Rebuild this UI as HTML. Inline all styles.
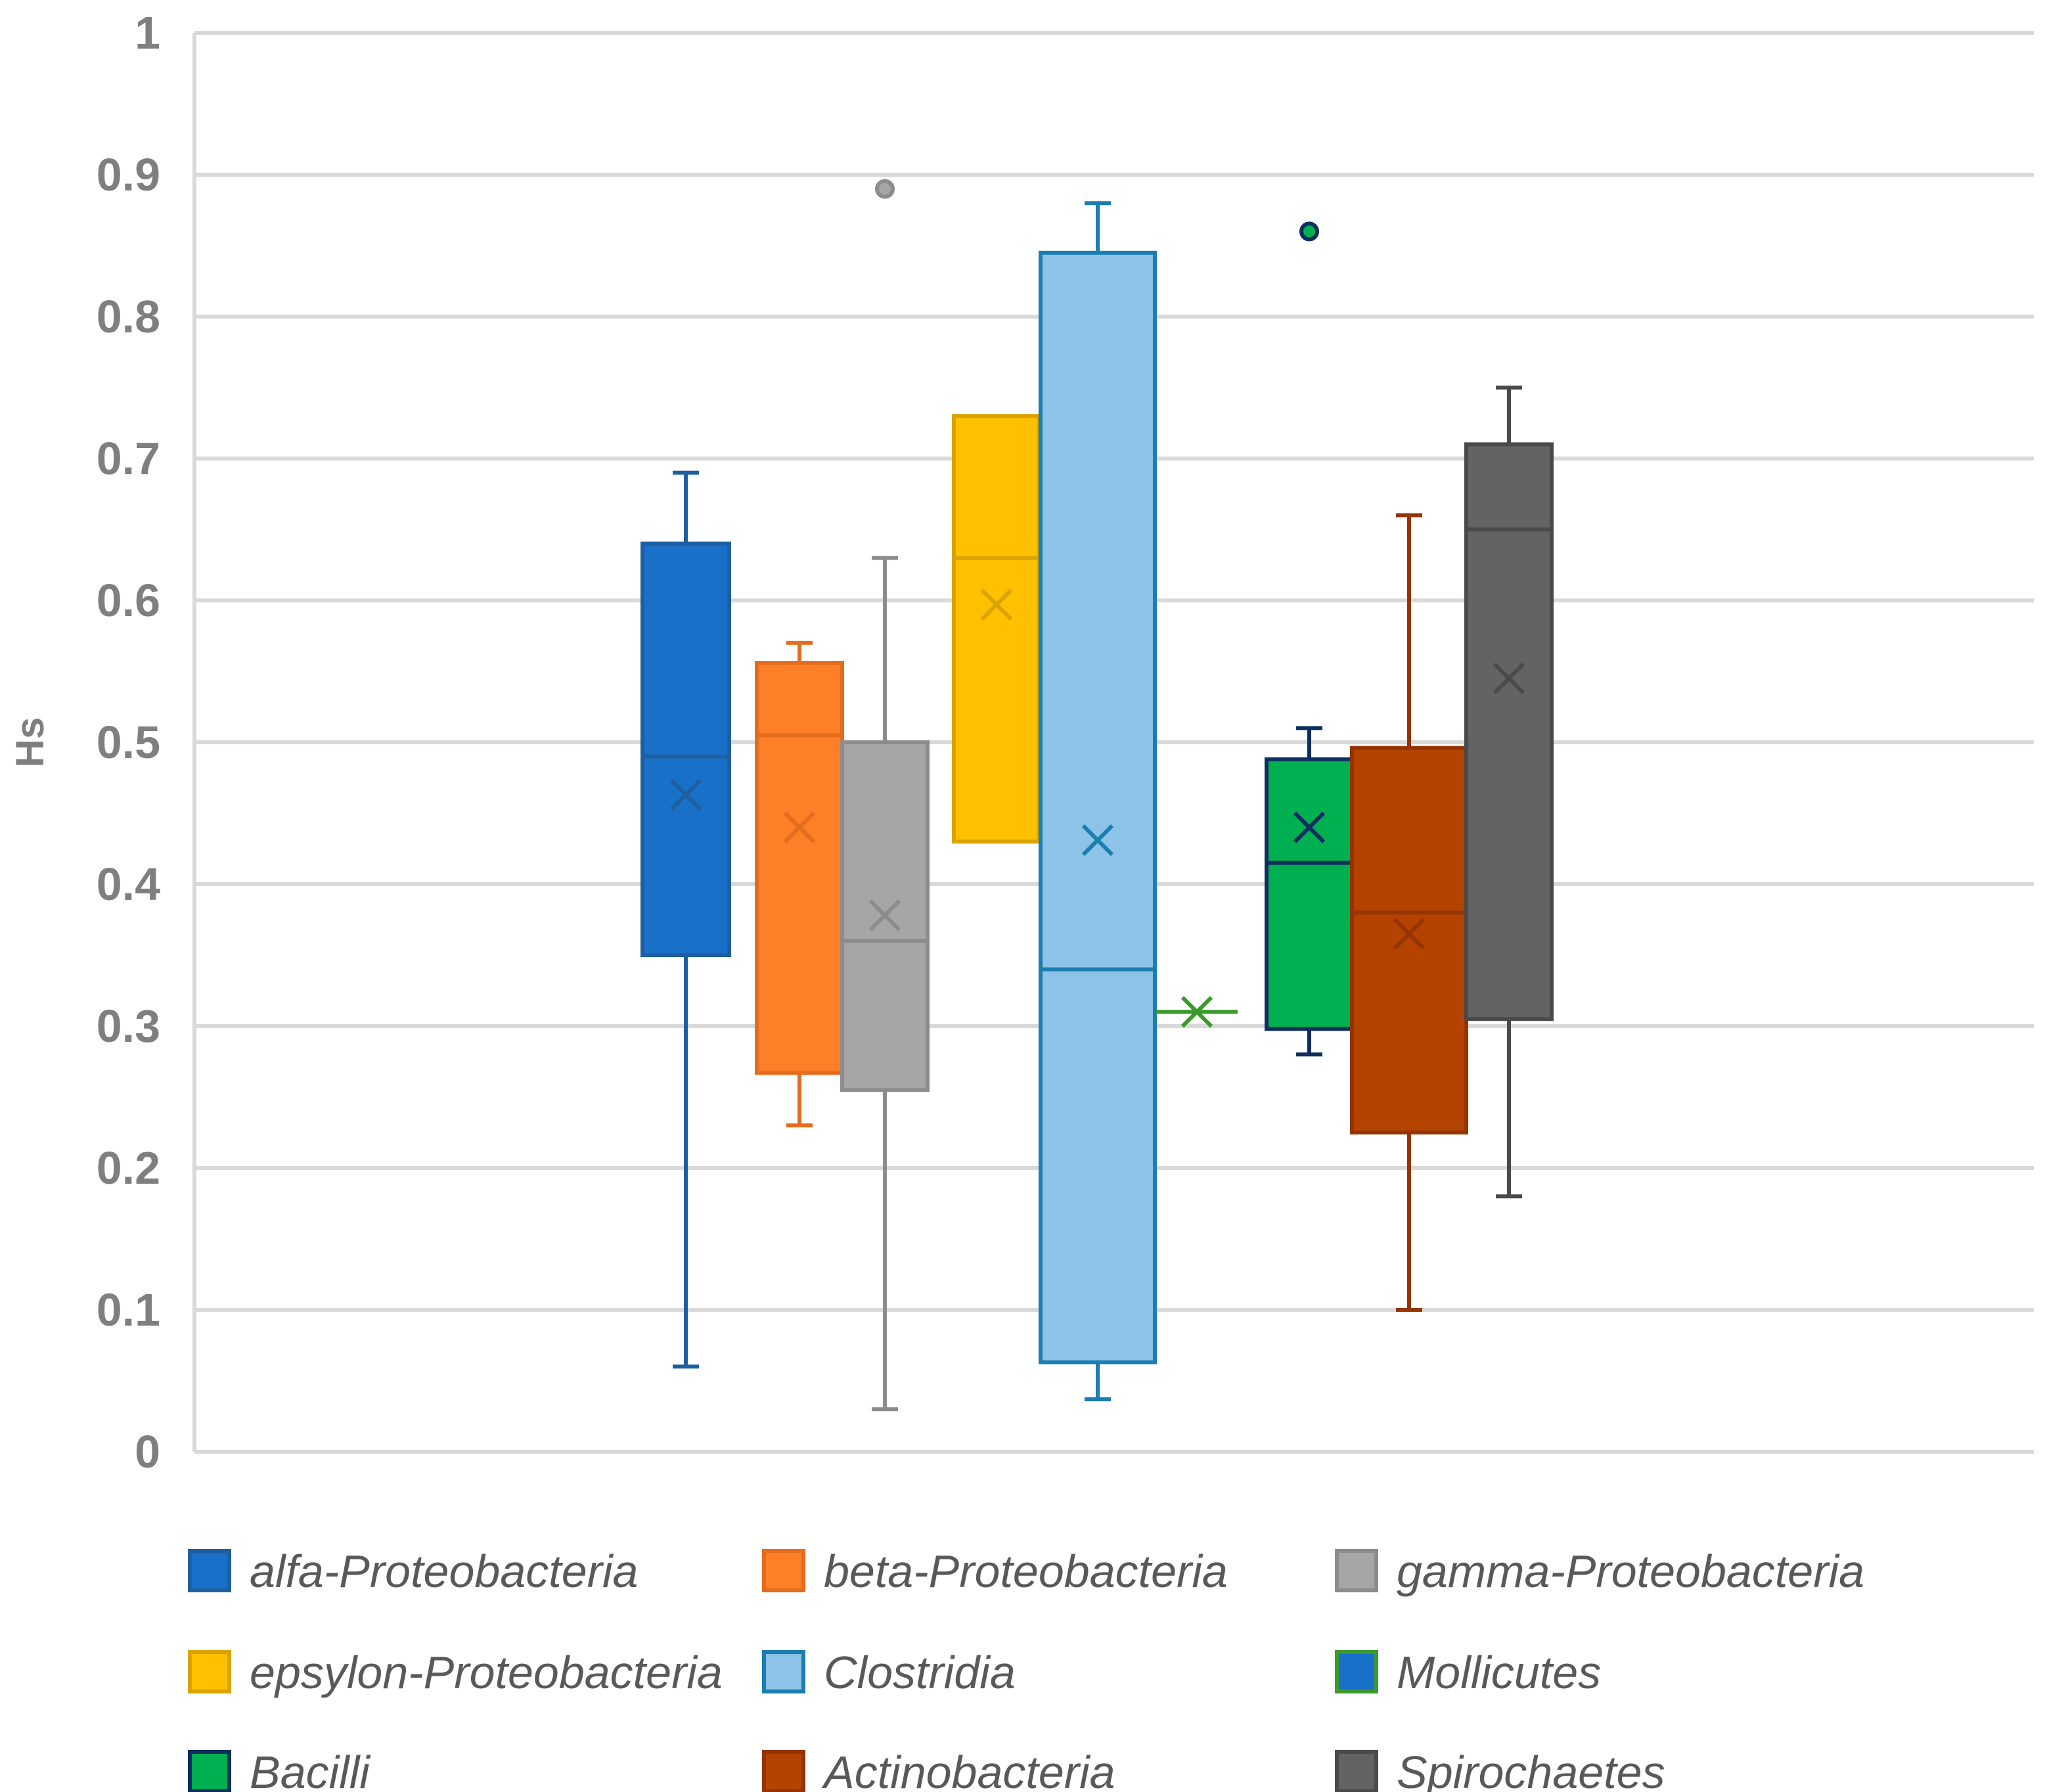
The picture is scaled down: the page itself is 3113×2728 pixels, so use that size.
<!DOCTYPE html>
<html><head><meta charset="utf-8"><style>
html,body{margin:0;padding:0;background:#fff}
svg{display:block}
text{font-family:"Liberation Sans",sans-serif}
</style></head><body>
<svg id="chart" width="3113" height="2728" viewBox="0 0 3113 2728" xmlns="http://www.w3.org/2000/svg">
<g id="grid"></g>
<g id="yticks"></g>
<text x="66" y="1130" transform="rotate(-90 66 1130)" text-anchor="middle" font-size="60" font-weight="bold" fill="#7f7f7f">Hs</text>
<g id="boxes"></g>
<g id="legend"></g>
</svg>
<script>
const categories=["alfa-Proteobacteria","beta-Proteobacteria","gamma-Proteobacteria","epsylon-Proteobacteria","Clostridia","Mollicutes","Bacilli","Actinobacteria","Spirochaetes"];
const mins=[0.06,0.23,0.03,0.43,0.037,0.31,0.28,0.10,0.18];
const q1s=[0.35,0.267,0.255,0.43,0.063,0.31,0.298,0.225,0.305];
const medians=[0.49,0.505,0.36,0.63,0.34,0.31,0.415,0.38,0.65];
const q3s=[0.64,0.556,0.50,0.73,0.845,0.31,0.488,0.496,0.71];
const maxs=[0.69,0.57,0.63,0.73,0.88,0.31,0.51,0.66,0.75];
const means=[0.463,0.44,0.378,0.597,0.431,0.31,0.44,0.365,0.545];
const outliers=[[],[],[0.89],[],[],[],[0.86],[],[]];
const yTicks=[0,0.1,0.2,0.3,0.4,0.5,0.6,0.7,0.8,0.9,1];
const yTickLabels=["0","0.1","0.2","0.3","0.4","0.5","0.6","0.7","0.8","0.9","1"];
const fills=["#1870c8","#fd7f28","#a6a6a6","#ffc000","#8dc3e6","#1870c8","#00b050","#b54300","#636363"];
const strokes=["#1f5fa0","#e46c1e","#8c8c8c","#d9a300","#1b7eb0","#3a9a2a","#0e2f5e","#943400","#4a4a4a"];
const xs=[[978,1110],[1152,1282],[1282,1412],[1452,1582],[1584,1758],[1760,1884],[1928,2058],[2058,2232],[2232,2362]];
const NS="http://www.w3.org/2000/svg";
const y=v=>2210-v*2160;
function mk(tag,attrs,parent){const e=document.createElementNS(NS,tag);for(const k in attrs)e.setAttribute(k,attrs[k]);parent.appendChild(e);return e;}
const grid=document.getElementById('grid'),yt=document.getElementById('yticks');
yTicks.forEach((t,i)=>{
 const l=mk('line',{x1:296,x2:3096,y1:y(t),y2:y(t),stroke:'#d9d9d9','stroke-width':6},grid);
 
 
 const tx=mk('text',{x:244,y:y(t)+24,'text-anchor':'end','font-size':70,'font-weight':'bold',fill:'#7f7f7f'},yt);
 tx.textContent=yTickLabels[i];
 
 
});
mk('line',{x1:296,x2:296,y1:y(1),y2:y(0),stroke:'#d9d9d9','stroke-width':6},grid);
const bx=document.getElementById('boxes');
categories.forEach((c,i)=>{
 const g=mk('g',{},bx);
 
 
 const [a,b]=xs[i],cx=(a+b)/2,s=strokes[i],sw=6;
 if(i===5){mk('line',{x1:a,x2:b,y1:y(medians[i]),y2:y(medians[i]),stroke:s,'stroke-width':sw},g);}
 else{
  mk('line',{x1:cx,x2:cx,y1:y(maxs[i]),y2:y(mins[i]),stroke:s,'stroke-width':sw},g);
  if(maxs[i]>q3s[i])mk('line',{x1:cx-20,x2:cx+20,y1:y(maxs[i]),y2:y(maxs[i]),stroke:s,'stroke-width':sw},g);
  if(mins[i]<q1s[i])mk('line',{x1:cx-20,x2:cx+20,y1:y(mins[i]),y2:y(mins[i]),stroke:s,'stroke-width':sw},g);
  mk('rect',{x:a,y:y(q3s[i]),width:b-a,height:y(q1s[i])-y(q3s[i]),fill:fills[i],stroke:s,'stroke-width':sw},g);
  mk('line',{x1:a,x2:b,y1:y(medians[i]),y2:y(medians[i]),stroke:s,'stroke-width':sw},g);
 }
 const my=y(means[i]),d=22;
 mk('path',{d:`M${cx-d} ${my-d}L${cx+d} ${my+d}M${cx+d} ${my-d}L${cx-d} ${my+d}`,stroke:s,'stroke-width':6,fill:'none'},g);
 outliers[i].forEach(o=>{const p=mk('circle',{cx:cx,cy:y(o),r:12,fill:fills[i],stroke:s,'stroke-width':6},g);
  
  });
});
const lg=document.getElementById('legend');
const cols=[286,1160,2032],rows=[2394,2548,2700];
categories.forEach((c,i)=>{
 const cx=cols[i%3],ry=rows[Math.floor(i/3)];
 const g=mk('g',{},lg);
 
 
 mk('rect',{x:cx+3,y:ry-33,width:60,height:60,fill:fills[i],stroke:strokes[i],'stroke-width':6},g);
 const t=mk('text',{x:cx+94,y:ry+22,'font-size':70,'font-style':'italic',fill:'#595959'},g);
 t.textContent=c;
});
</script>
</body></html>
